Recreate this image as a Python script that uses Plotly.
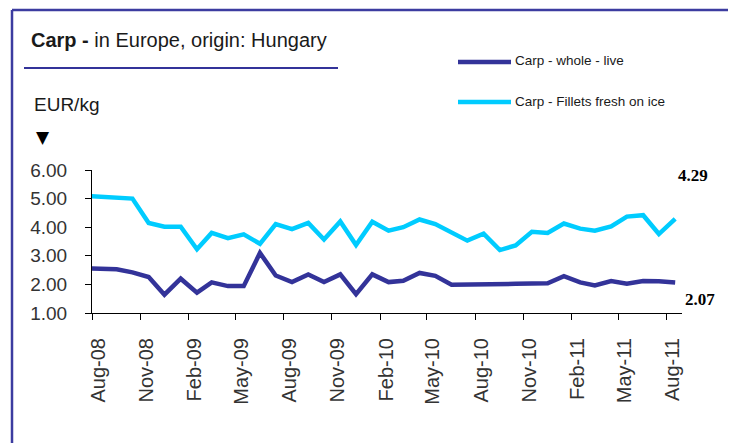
import plotly.graph_objects as go

# ---- data ----
months = ["2008-07", "2008-08", "2008-09", "2008-10", "2008-11", "2008-12",
          "2009-01", "2009-02", "2009-03", "2009-04", "2009-05", "2009-06",
          "2009-07", "2009-08", "2009-09", "2009-10", "2009-11", "2009-12",
          "2010-01", "2010-02", "2010-03", "2010-04", "2010-05", "2010-06",
          "2010-07", "2010-08", "2010-09", "2010-10", "2010-11", "2010-12",
          "2011-01", "2011-02", "2011-03", "2011-04", "2011-05", "2011-06",
          "2011-07", "2011-08"]
whole_live = [2.56, 2.55, 2.53, 2.42, 2.26, 1.64, 2.20, 1.71, 2.07, 1.94, 1.94, 3.10,
              2.31, 2.08, 2.35, 2.08, 2.35, 1.66, 2.35, 2.08, 2.13, 2.40, 2.30, 1.99,
              1.99, 1.99, 1.99, 2.02, 2.03, 2.04, 2.29, 2.07, 1.96, 2.12, 2.02, 2.12,
              2.11, 2.07]
fillets = [5.10, 5.06, 5.00, 5.00, 4.15, 4.02, 4.02, 3.23, 3.80, 3.62, 3.75, 3.42,
           4.11, 3.93, 4.15, 3.57, 4.20, 3.38, 4.19, 3.88, 4.00, 4.27, 4.11, 3.80,
           3.53, 3.77, 3.20, 3.36, 3.84, 3.80, 4.13, 3.95, 3.88, 4.03, 4.37, 4.42,
           3.76, 4.29]
series_names = ["Carp - whole - live", "Carp - Fillets fresh on ice"]
y_ticks = [1, 2, 3, 4, 5, 6]

dates = [m + "-17" for m in months]

DARK = "#333399"
LIGHT = "#00CCFF"
FONT = "Liberation Sans, Arial, sans-serif"

OFF = 8  # page body margin
W, H = 736 - OFF, 443 - OFF
# plot area in window coordinates
WL, WR, WT, WB = 92, 682, 170, 313
L, R, T, B = WL - OFF, WR - OFF, WT - OFF, WB - OFF
PW, PH = R - L, B - T


def px(x):
    return (x - OFF - L) / PW


def py(y):
    return (B - (y - OFF)) / PH


fig = go.Figure()
fig.add_trace(go.Scatter(x=dates, y=whole_live, mode="lines", name=series_names[0],
                         line=dict(color=DARK, width=4.5)))
fig.add_trace(go.Scatter(x=dates, y=fillets, mode="lines", name=series_names[1],
                         line=dict(color=LIGHT, width=4.5)))

shapes = [
    # frame
    dict(type="line", xref="paper", yref="paper", x0=px(12), x1=px(12), y0=py(10), y1=py(460),
         line=dict(color="#3c3ca0", width=2.5)),
    dict(type="line", xref="paper", yref="paper", x0=px(12), x1=px(760), y0=py(10), y1=py(10),
         line=dict(color="#3c3ca0", width=2.5)),
    # title underline
    dict(type="line", xref="paper", yref="paper", x0=px(24), x1=px(338), y0=py(68), y1=py(68),
         line=dict(color=DARK, width=2)),
    # legend lines
    dict(type="line", xref="paper", yref="paper", x0=px(458), x1=px(511), y0=py(62), y1=py(62),
         line=dict(color=DARK, width=4.5)),
    dict(type="line", xref="paper", yref="paper", x0=px(458), x1=px(511), y0=py(102), y1=py(102),
         line=dict(color=LIGHT, width=4.5)),
]

annotations = [
    dict(text="<b>Carp - </b>in Europe, origin: Hungary", xref="paper", yref="paper",
         x=px(29), y=py(40), xanchor="left", yanchor="middle", showarrow=False,
         font=dict(family=FONT, size=20, color="#1a1a1a")),
    dict(text="EUR/kg", xref="paper", yref="paper", x=px(32), y=py(104),
         xanchor="left", yanchor="middle", showarrow=False,
         font=dict(family=FONT, size=19, color="#1a1a1a")),
    dict(text="▼", xref="paper", yref="paper", x=px(43), y=py(137),
         xanchor="center", yanchor="middle", showarrow=False,
         font=dict(family="DejaVu Sans", size=17, color="#000000")),
    dict(text=series_names[0], xref="paper", yref="paper", x=px(513), y=py(61),
         xanchor="left", yanchor="middle", showarrow=False,
         font=dict(family=FONT, size=13.5, color="#1a1a1a")),
    dict(text=series_names[1], xref="paper", yref="paper", x=px(513), y=py(101),
         xanchor="left", yanchor="middle", showarrow=False,
         font=dict(family=FONT, size=13.5, color="#1a1a1a")),
    dict(text="<b>%.2f</b>" % fillets[-1], x=dates[-1], y=fillets[-1], xref="x", yref="y",
         xshift=18, yshift=43, showarrow=False, xanchor="center", yanchor="middle",
         font=dict(family="Liberation Serif, Times New Roman, serif", size=17, color="#000000")),
    dict(text="<b>%.2f</b>" % whole_live[-1], x=dates[-1], y=whole_live[-1], xref="x", yref="y",
         xshift=25, yshift=-17, showarrow=False, xanchor="center", yanchor="middle",
         font=dict(family="Liberation Serif, Times New Roman, serif", size=17, color="#000000")),
]

fig.update_layout(
    width=W, height=H,
    margin=dict(l=L, r=W - R, t=T, b=H - B, pad=0),
    paper_bgcolor="white", plot_bgcolor="white",
    showlegend=False,
    shapes=shapes,
    annotations=annotations,
    xaxis=dict(type="date", range=["2008-08-01", "2011-08-30"],
               tick0="2008-08-01", dtick="M3", tickformat="%b-%y", tickangle=-90,
               ticks="outside", ticklen=6, tickcolor="black",
               showline=True, linecolor="black", linewidth=1,
               showgrid=False, zeroline=False,
               ticklabelstandoff=10, ticklabelshift=6,
               tickfont=dict(family=FONT, size=20, color="#333333")),
    yaxis=dict(range=[1, 6], tickvals=y_ticks, tickformat=".2f",
               ticks="outside", ticklen=6, tickcolor="black",
               showline=True, linecolor="black", linewidth=1,
               showgrid=False, zeroline=False, ticklabelstandoff=14,
               tickfont=dict(family=FONT, size=19, color="#333333")),
)

fig.write_html("out.html")
